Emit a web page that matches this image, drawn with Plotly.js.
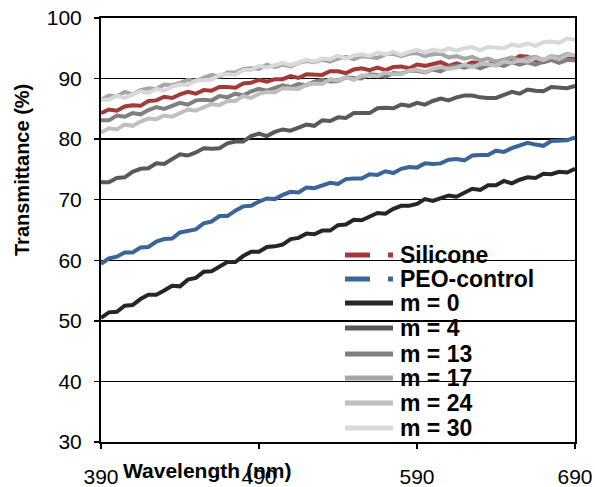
<!DOCTYPE html>
<html>
<head>
<meta charset="utf-8">
<script src="https://cdn.plot.ly/plotly-3.0.1.min.js"></script>
<style>html,body{margin:0;padding:0;background:#fff;}#chart{width:595px;height:487px;}</style>
</head>
<body>
<div id="chart"></div>
<script>
var wavelength = [390,395,400,405,410,415,420,425,430,435,440,445,450,455,460,465,470,475,480,485,490,495,500,505,510,515,520,525,530,535,540,545,550,555,560,565,570,575,580,585,590,595,600,605,610,615,620,625,630,635,640,645,650,655,660,665,670,675,680,685,690];

var silicone = [84.3,84.9,84.7,85.4,85.6,85.5,86.3,86.4,87.0,86.8,87.4,87.8,87.5,88.1,88.0,88.6,88.6,88.5,89.2,89.3,89.8,89.5,89.9,89.9,90.4,90.1,90.7,90.6,90.6,91.2,91.2,90.9,91.5,91.7,91.4,91.8,91.4,91.9,92.0,91.7,92.3,92.1,92.4,92.7,92.1,92.5,92.1,92.7,92.5,92.4,92.8,92.5,93.0,93.7,93.6,93.0,92.7,93.1,92.7,93.3,93.3];
var peoControl = [59.4,60.3,60.6,61.3,61.3,62.1,62.2,63.1,63.5,63.6,64.6,64.8,65.1,66.1,66.4,67.3,67.3,68.2,68.9,69.0,69.7,70.2,70.1,70.8,71.3,71.2,72.0,71.9,72.3,72.8,72.6,73.4,73.5,73.5,74.2,74.1,74.7,74.4,75.1,75.4,75.3,76.0,75.9,76.0,76.6,76.7,76.5,77.3,77.4,77.4,78.1,77.9,78.5,78.9,79.4,79.1,78.9,79.7,79.8,79.8,80.3];
var m0 = [50.5,51.4,51.5,52.5,52.6,53.6,54.3,54.3,55.0,55.8,55.7,56.8,57.1,58.1,58.2,59.0,59.7,59.7,60.7,61.4,61.4,62.2,62.3,62.6,63.5,63.7,64.4,64.3,64.9,64.9,65.8,65.9,66.7,66.6,67.2,67.8,67.7,68.5,69.0,69.0,69.3,70.1,69.8,70.3,70.7,70.5,71.2,71.8,71.6,72.4,72.4,73.1,72.7,73.3,73.7,73.6,74.3,74.2,74.6,74.5,75.1];
var m4 = [72.9,72.9,73.6,73.7,74.6,75.1,75.2,76.0,75.9,76.8,77.5,77.3,77.8,78.5,78.4,78.5,79.3,79.6,79.6,80.5,80.9,80.5,81.2,81.6,81.4,81.9,82.4,82.2,83.1,83.0,83.6,83.5,84.3,84.3,84.3,85.1,85.2,85.1,85.7,85.5,86.0,85.7,86.3,86.7,86.4,86.9,87.2,87.2,86.9,86.8,86.8,87.3,87.8,87.5,88.2,88.0,87.9,88.6,88.5,88.4,88.8];
var m13 = [83.1,83.1,83.9,83.7,84.3,84.1,84.8,85.3,85.0,85.5,86.0,85.7,86.4,86.5,86.4,87.1,86.9,87.5,87.2,87.9,88.3,88.0,88.4,88.9,88.6,89.1,88.9,89.5,89.8,89.5,89.6,90.2,90.1,90.0,90.7,90.6,90.3,90.9,90.8,91.3,91.3,91.0,91.5,91.2,91.9,92.1,91.8,92.2,91.7,92.2,92.4,92.1,92.7,92.3,92.7,92.3,92.8,93.1,92.6,93.1,93.0];
var m17 = [86.5,87.2,87.1,87.8,87.4,88.1,88.4,88.3,89.0,88.9,89.3,89.8,89.6,90.1,90.6,90.3,91.0,91.0,91.6,91.7,91.6,92.3,91.9,92.3,92.0,92.6,92.9,92.7,93.1,92.8,93.3,93.6,93.2,93.7,93.5,93.4,94.0,94.1,93.7,94.1,94.2,93.7,94.0,94.1,93.5,93.7,93.3,93.6,93.0,93.3,92.8,93.2,93.5,93.0,93.4,93.6,93.1,93.7,93.5,94.1,93.8];
var m24 = [81.1,81.8,81.6,82.4,82.2,82.9,83.4,83.3,83.9,83.7,84.3,84.9,84.7,85.3,85.8,85.6,86.3,86.3,87.1,86.8,87.5,87.8,87.7,88.4,88.4,88.3,89.0,89.2,89.1,89.9,89.7,90.2,89.8,90.5,90.5,90.4,91.0,90.7,90.7,91.3,91.5,91.1,91.6,91.9,91.6,91.8,92.3,91.9,92.4,92.4,92.1,92.8,92.6,93.0,92.8,93.4,93.1,93.6,93.2,93.9,93.9];
var m30 = [86.5,86.5,87.2,86.8,87.4,87.9,87.6,88.3,88.0,88.7,89.0,88.9,89.7,89.7,89.8,90.6,90.7,90.6,91.4,91.4,92.1,91.8,92.2,92.6,92.2,92.6,93.1,92.8,93.3,93.2,93.8,93.3,93.8,94.0,93.7,94.3,94.0,94.4,93.9,94.4,94.7,94.3,94.8,94.5,95.0,94.6,95.0,95.2,94.7,95.2,95.1,95.0,95.6,95.4,95.8,95.4,96.0,96.1,95.9,96.6,96.4];

var seriesNames = ['Silicone','PEO-control','m = 0','m = 4','m = 13','m = 17','m = 24','m = 30'];
var seriesValues = [silicone, peoControl, m0, m4, m13, m17, m24, m30];
var seriesColors = ['#A33A37','#3A6599','#262626','#595959','#808080','#A6A6A6','#BFBFBF','#D9D9D9'];
var xTicks = [390,490,590,690];
var yTicks = [30,40,50,60,70,80,90,100];

var FONT = 'Arial, "Liberation Sans", sans-serif';

var traces = seriesValues.map(function(v, i){
  return {type:'scatter', mode:'lines', x: wavelength, y: v, name: seriesNames[i],
    line:{color: seriesColors[i], width:4}, showlegend:false, hoverinfo:'skip'};
});

// manual legend (pixel positions converted to paper coords)
var L = 101, W = 474, T = 18, H = 424;
function px(x){ return (x - L)/W; }
function py(y){ return (T + H - y)/H; }
var rowY = [255,279,303,328,354,378,403,428];
var shapes = [], annotations = [];
seriesNames.forEach(function(n, i){
  var y = py(rowY[i]);
  if (i < 2) {
    shapes.push({type:'line', xref:'paper', yref:'paper', x0:px(345), x1:px(370), y0:y, y1:y, line:{color:seriesColors[i], width:5}});
    shapes.push({type:'line', xref:'paper', yref:'paper', x0:px(388), x1:px(393), y0:y, y1:y, line:{color:seriesColors[i], width:5}});
  } else {
    shapes.push({type:'line', xref:'paper', yref:'paper', x0:px(345), x1:px(393), y0:y, y1:y, line:{color:seriesColors[i], width:5}});
  }
  annotations.push({xref:'paper', yref:'paper', x:px(398), y:y, xanchor:'left', yanchor:'middle', showarrow:false,
    text:'<b>'+n+'</b>', font:{family:FONT, size:23, color:'#000'}});
});
annotations.push({xref:'paper', yref:'paper', x:px(22), y:py(170), xanchor:'center', yanchor:'middle', showarrow:false,
  textangle:-90, text:'<b>Transmittance (%)</b>', font:{family:FONT, size:20, color:'#000'}});
annotations.push({xref:'paper', yref:'paper', x:px(207), y:py(470), xanchor:'center', yanchor:'middle', showarrow:false,
  text:'<b>Wavelength (nm)</b>', font:{family:FONT, size:21, color:'#000'}});

var layout = {
  width:595, height:487,
  margin:{l:L, r:20, t:T, b:45, pad:0},
  paper_bgcolor:'#fff', plot_bgcolor:'#fff',
  showlegend:false,
  font:{family:FONT, size:21, color:'#000'},
  xaxis:{range:[390,690], tickmode:'array', tickvals:xTicks, ticktext:xTicks.map(String),
    showgrid:false, zeroline:false, showline:true, linecolor:'#000', linewidth:2, mirror:true,
    ticks:'outside', ticklen:5, tickwidth:1.5, tickcolor:'#000', ticklabelstandoff:10,
    tickfont:{family:FONT, size:21, color:'#000'}},
  yaxis:{range:[30,100], tickmode:'array', tickvals:yTicks, ticktext:yTicks.map(String),
    showgrid:true, gridcolor:'#000', gridwidth:1.5, zeroline:false, showline:true, linecolor:'#000', linewidth:2, mirror:true,
    ticks:'outside', ticklen:5, tickwidth:1.5, tickcolor:'#000', ticklabelstandoff:8,
    tickfont:{family:FONT, size:21, color:'#000'}},
  shapes: shapes,
  annotations: annotations
};

Plotly.newPlot('chart', traces, layout, {displayModeBar:false, staticPlot:true});
</script>
</body>
</html>
